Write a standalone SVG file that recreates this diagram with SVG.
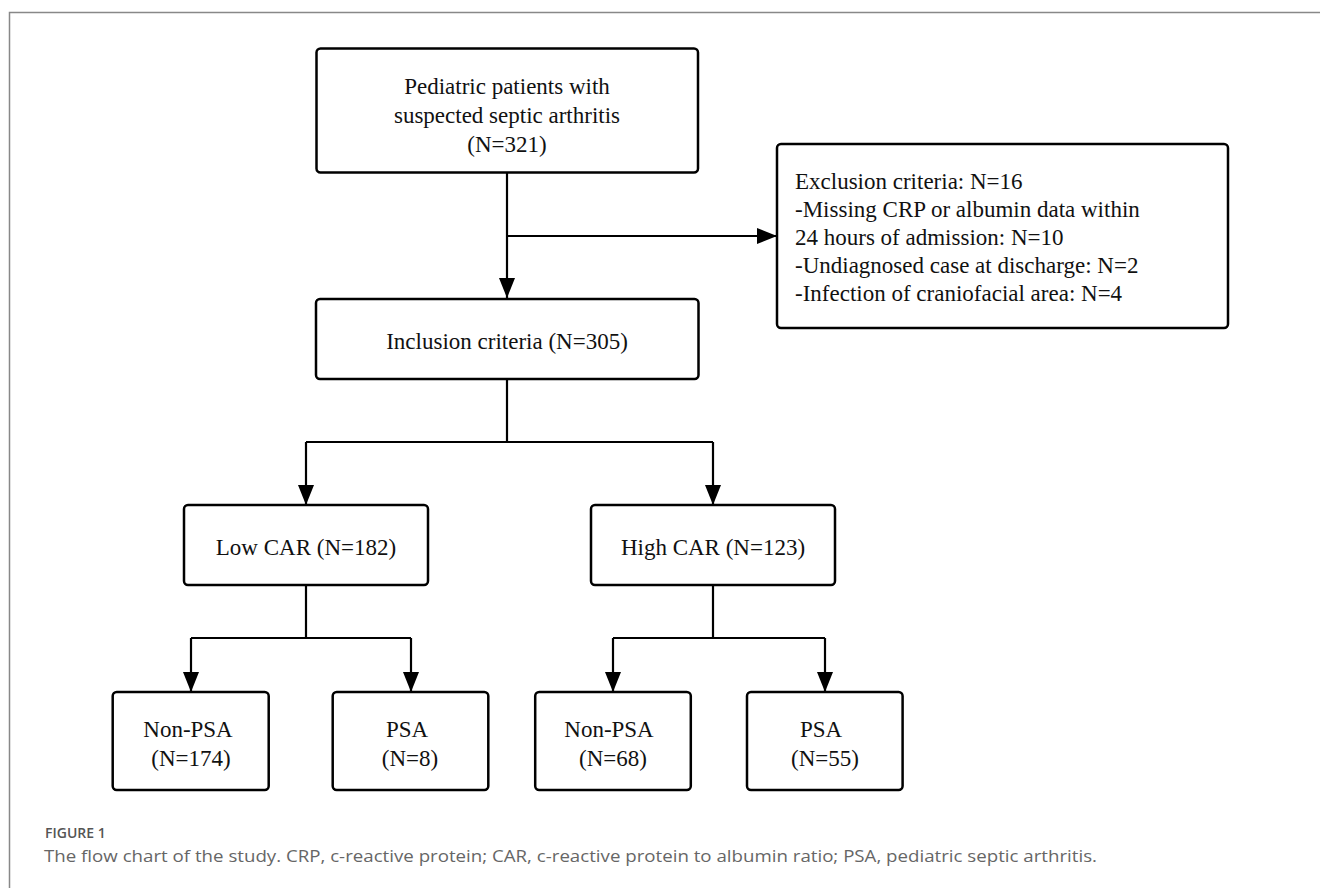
<svg xmlns="http://www.w3.org/2000/svg" width="1320" height="888" viewBox="0 0 1320 888">
<style>
.box{fill:#fff;stroke:#000;stroke-width:2.5}
.t{font-family:"Liberation Serif","Times New Roman",serif;font-size:23px;fill:#111}
.c{text-anchor:middle}
.ln{fill:none;stroke:#000;stroke-width:2.2}
.cap1{font-family:"Open Sans",sans-serif;font-size:14px;font-weight:600;fill:#555}
.cap2{font-family:"Open Sans",sans-serif;font-size:16px;fill:#666}
</style>
<defs>
<marker id="ah" markerUnits="userSpaceOnUse" markerWidth="20" markerHeight="16" refX="20" refY="8" orient="auto">
<path d="M0,0 L20,8 L0,16 z" fill="#000"/>
</marker>
</defs>
<rect width="1320" height="888" fill="#fff"/>
<path d="M9.5,888 V12.5 H1320" fill="none" stroke="#888" stroke-width="1.5"/>
<g id="connectors">
<path class="ln" d="M507,173 V298" marker-end="url(#ah)"/>
<path class="ln" d="M507,236 H777" marker-end="url(#ah)"/>
<path class="ln" d="M507,379 V442 M306,442 H713"/>
<path class="ln" d="M306,442 V505" marker-end="url(#ah)"/>
<path class="ln" d="M713,442 V505" marker-end="url(#ah)"/>
<path class="ln" d="M306,585 V638 M191,638 H411"/>
<path class="ln" d="M191,638 V692" marker-end="url(#ah)"/>
<path class="ln" d="M411,638 V692" marker-end="url(#ah)"/>
<path class="ln" d="M713,585 V638 M613,638 H825"/>
<path class="ln" d="M613,638 V692" marker-end="url(#ah)"/>
<path class="ln" d="M825,638 V692" marker-end="url(#ah)"/>
</g>
<g id="n-start">
<rect class="box" x="316.5" y="48.5" width="381.5" height="124" rx="4"/>
<text class="t c" x="507" y="94">Pediatric patients with</text>
<text class="t c" x="507" y="123">suspected septic arthritis</text>
<text class="t c" x="507" y="152">(N=321)</text>
</g>
<g id="n-exclusion">
<rect class="box" x="777" y="144" width="451" height="184" rx="4"/>
<text class="t" x="795" y="189">Exclusion criteria: N=16</text>
<text class="t" x="795" y="217">-Missing CRP or albumin data within</text>
<text class="t" x="795" y="245">24 hours of admission: N=10</text>
<text class="t" x="795" y="273">-Undiagnosed case at discharge: N=2</text>
<text class="t" x="795" y="301">-Infection of craniofacial area: N=4</text>
</g>
<g id="n-inclusion">
<rect class="box" x="316" y="299" width="382.5" height="80" rx="4"/>
<text class="t c" x="507" y="349">Inclusion criteria (N=305)</text>
</g>
<g id="n-low">
<rect class="box" x="184" y="505" width="244" height="80" rx="4"/>
<text class="t c" x="306" y="555">Low CAR (N=182)</text>
</g>
<g id="n-high">
<rect class="box" x="591" y="505" width="244" height="80" rx="4"/>
<text class="t c" x="713" y="555">High CAR (N=123)</text>
</g>
<g id="n-low-nonpsa">
<rect class="box" x="112.7" y="692" width="156" height="98" rx="4"/>
<text class="t c" x="188" y="737">Non-PSA</text>
<text class="t c" x="191" y="766">(N=174)</text>
</g>
<g id="n-low-psa">
<rect class="box" x="332.7" y="692" width="155.6" height="98" rx="4"/>
<text class="t c" x="407" y="737">PSA</text>
<text class="t c" x="410" y="766">(N=8)</text>
</g>
<g id="n-high-nonpsa">
<rect class="box" x="535.2" y="692" width="155.6" height="98" rx="4"/>
<text class="t c" x="609" y="737">Non-PSA</text>
<text class="t c" x="613" y="766">(N=68)</text>
</g>
<g id="n-high-psa">
<rect class="box" x="747" y="692" width="155.6" height="98" rx="4"/>
<text class="t c" x="821" y="737">PSA</text>
<text class="t c" x="825" y="766">(N=55)</text>
</g>
<g id="caption">
<text class="cap1" x="45" y="838">FIGURE 1</text>
<text class="cap2" x="44" y="862" textLength="1053" lengthAdjust="spacingAndGlyphs">The flow chart of the study. CRP, c-reactive protein; CAR, c-reactive protein to albumin ratio; PSA, pediatric septic arthritis.</text>
</g>
</svg>
